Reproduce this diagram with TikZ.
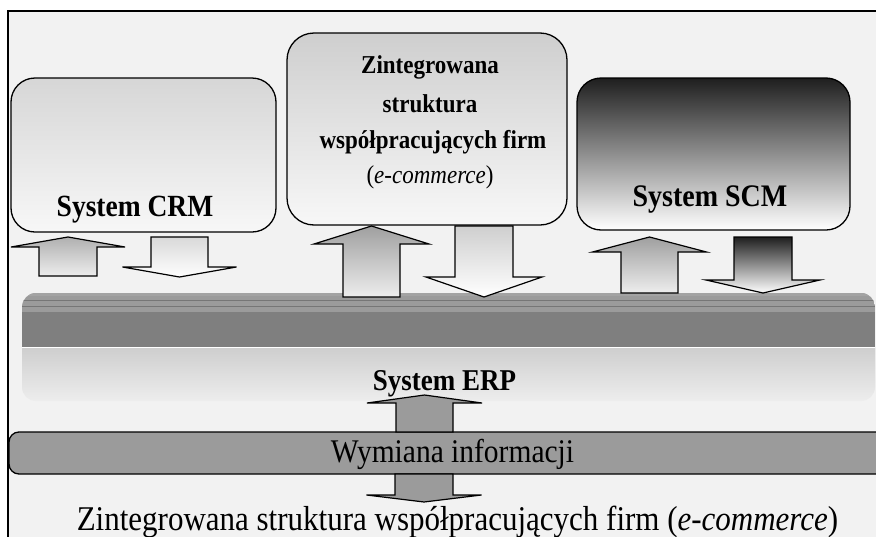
\documentclass[tikz,border=0pt]{standalone}
\usepackage{fontspec}
\setmainfont{Liberation Serif}
\usetikzlibrary{calc}
\definecolor{bg}{HTML}{F2F2F2}
\definecolor{midgray}{HTML}{9B9B9B}
\definecolor{dkgray}{HTML}{7F7F7F}
\definecolor{stripe}{HTML}{767676}
\definecolor{topstripe}{HTML}{A3A3A3}
\tikzset{
  boxstyle/.style={draw=black, line width=1.3pt, rounded corners=24pt, inner sep=0pt},
  arrstyle/.style={draw=black, line width=1.2pt, line join=miter},
  lbl/.style={inner sep=0pt, anchor=base},
}
\newcommand\tall[1]{\scalebox{1}[1.12]{#1}}
% up block arrow: xc, ytip, yhead, ybottom, shaft half, head half, style
\newcommand\blockup[7]{%
  \draw[arrstyle,#7] (#1,#2) -- (#1+#6,#3) -- (#1+#5,#3) -- (#1+#5,#4) -- (#1-#5,#4) -- (#1-#5,#3) -- (#1-#6,#3) -- cycle;}
% down block arrow: xc, ytop, yhead, ytip, shaft half, head half, style
\newcommand\blockdown[7]{%
  \draw[arrstyle,#7] (#1-#5,#2) -- (#1+#5,#2) -- (#1+#5,#3) -- (#1+#6,#3) -- (#1,#4) -- (#1-#6,#3) -- (#1-#5,#3) -- cycle;}
\begin{document}
\begin{tikzpicture}[x=1pt,y=-1pt]
\useasboundingbox (0,0) rectangle (876,536);
\clip (0,0) rectangle (876,536);
\fill[white] (0,0) rectangle (876,536);
% outer frame
\draw[fill=bg, line width=1.3pt] (8,11) rectangle (920,600);

% ERP band
\node[inner sep=0pt, minimum width=853pt, minimum height=108pt] (erp) at (448.5,347) {};
\begin{scope}
  \clip[rounded corners=14pt] (22,293) rectangle (875,401);
  \fill[midgray] (22,293) rectangle (875,312);
  \fill[topstripe] (22,293) rectangle (875,296);
  \draw[stripe, line width=0.9pt] (22,300) -- (875,300);
  \draw[stripe, line width=0.9pt] (22,306) -- (875,306);
  \fill[dkgray] (22,312) rectangle (875,347);
  \shade[top color=gray!38, bottom color=gray!14] (22,348) rectangle (875,401);
  \draw[white, line width=0.8pt] (22,347.5) -- (875,347.5);
\end{scope}
\node[lbl, font=\bfseries\fontsize{27}{30}\selectfont] (erpt) at (444.5,390) {\tall{System ERP}};

% Wymiana bar
\node[draw=black, line width=1.3pt, fill=midgray, rounded corners=10pt, minimum width=920pt, minimum height=42pt, inner sep=0pt] (wym) at (469,453) {};
\node[lbl, font=\fontsize{29.5}{32}\selectfont] (wymt) at (452.5,462) {\tall{Wymiana informacji}};

% bottom text
\node[lbl, font=\fontsize{31}{34}\selectfont] (out) at (457.5,530) {\tall{Zintegrowana struktura współpracujących firm (\textit{e-commerce})}};

% boxes
\node[boxstyle, top color=gray!32, bottom color=white!97!black, minimum width=265pt, minimum height=154pt] (crm) at (143.5,155) {};
\node[lbl, font=\bfseries\fontsize{27.5}{30}\selectfont] (crmt) at (135,216) {\tall{System CRM}};

\node[boxstyle, rounded corners=27pt, top color=gray!38, bottom color=white!97!black, minimum width=280pt, minimum height=192pt] (ecom) at (427,129) {};
\node[lbl, font=\bfseries\fontsize{23}{26}\selectfont] (e1) at (430,73) {\tall{Zintegrowana}};
\node[lbl, font=\bfseries\fontsize{23}{26}\selectfont] (e2) at (430,112) {\tall{struktura}};
\node[lbl, font=\bfseries\fontsize{23}{26}\selectfont] (e3) at (433,148) {\tall{współpracujących firm}};
\node[lbl, font=\fontsize{23}{26}\selectfont] (e4) at (430,183) {\tall{(\textit{e-commerce})}};

\node[boxstyle, top color=black!88, bottom color=white, minimum width=273pt, minimum height=152pt] (scm) at (713.5,154) {};
\node[lbl, font=\bfseries\fontsize{28}{30}\selectfont] (scmt) at (710,206) {\tall{System SCM}};

% arrows
\blockup{68}{237}{247}{276}{29}{57}{top color=gray!62, bottom color=gray!14}
\blockdown{179.5}{237}{267}{277}{28.5}{57}{top color=gray!30, bottom color=white}
\blockup{371.5}{226}{244}{297}{28.5}{57.5}{top color=gray!75, bottom color=gray!14}
\blockdown{484}{226}{277}{297}{29}{58}{top color=gray!38, bottom color=white}
\blockup{649.5}{237}{252}{293}{28.5}{57}{top color=gray!75, bottom color=gray!14}
\blockdown{763}{237}{280}{293}{29}{57}{top color=black!88, bottom color=white}
\blockup{424.5}{395}{403}{432}{28.5}{57.5}{fill=midgray}
\blockdown{424}{474}{495}{502}{29}{57.5}{fill=midgray}
\end{tikzpicture}
\end{document}
